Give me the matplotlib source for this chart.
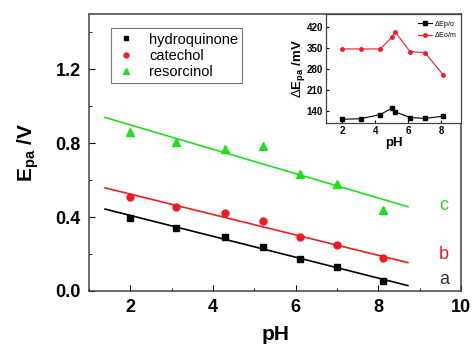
import matplotlib
matplotlib.use('Agg')
import matplotlib.pyplot as plt
import numpy as np

plt.rcParams['font.family'] = ['Liberation Sans', 'DejaVu Sans']
plt.rcParams['mathtext.fontset'] = 'custom'
plt.rcParams['mathtext.rm'] = 'Liberation Sans'
plt.rcParams['mathtext.bf'] = 'Liberation Sans:bold'

# main data: peak potentials vs pH
ph = [2.0, 3.1, 4.3, 5.2, 6.1, 7.0, 8.1]
hydroquinone = [0.395, 0.339, 0.290, 0.240, 0.173, 0.128, 0.054]
catechol = [0.508, 0.454, 0.423, 0.378, 0.294, 0.247, 0.178]
resorcinol = [0.858, 0.804, 0.769, 0.786, 0.634, 0.580, 0.438]

# fitted lines (slope, intercept) and range
fit_hq = [-0.0566, 0.522]
fit_cat = [-0.0553, 0.635]
fit_res = [-0.0660, 1.031]
fit_range = [1.39, 8.71]

# inset data
ph_inset = [2.0, 3.1, 4.3, 5.0, 5.2, 6.1, 7.0, 8.1]
dEp_o = [113, 115, 129, 150, 138, 119, 116, 123]
dEo_m = [348, 348, 348, 387, 405, 339, 336, 262]

green = '#22dd22'
red = '#ee1c24'

fig = plt.figure(figsize=(4.73, 3.48), dpi=100)
ax = fig.add_axes([0.188, 0.164, 0.787, 0.796])

xs = np.array(fit_range)
ax.plot(xs, fit_hq[0] * xs + fit_hq[1], color='black', lw=1.2)
ax.plot(xs, fit_cat[0] * xs + fit_cat[1], color=red, lw=1.2)
ax.plot(xs, fit_res[0] * xs + fit_res[1], color=green, lw=1.2)

ax.plot(ph, hydroquinone, 's', color='black', ms=4.5, label='hydroquinone')
ax.plot(ph, catechol, 'o', color=red, ms=5, label='catechol')
ax.plot(ph, resorcinol, '^', color=green, ms=5.5, label='resorcinol')

ax.text(9.58, 0.06, 'a', color='#333333', fontsize=13, ha='center', va='center')
ax.text(9.58, 0.195, 'b', color=red, fontsize=13, ha='center', va='center')
ax.text(9.58, 0.465, 'c', color=green, fontsize=13, ha='center', va='center')

ax.set_xlim(1, 10)
ax.set_ylim(0, 1.5)
ax.set_xticks([2, 4, 6, 8, 10])
ax.set_xticks([1, 3, 5, 7, 9], minor=True)
ax.set_yticks([0.0, 0.4, 0.8, 1.2])
ax.set_yticks([0.2, 0.6, 1.0, 1.4], minor=True)
ax.yaxis.set_major_formatter(matplotlib.ticker.FormatStrFormatter('%.1f'))
ax.tick_params(which='both', direction='in', labelsize=13)
ax.tick_params(which='major', length=4, pad=6)
ax.tick_params(which='minor', length=2.5)
for lab in ax.get_xticklabels() + ax.get_yticklabels():
    lab.set_fontweight('bold')
for s in ax.spines.values():
    s.set_linewidth(1.1)
    s.set_color('#444444')

ax.set_xlabel('pH', fontsize=15, fontweight='bold', labelpad=6)
ax.set_ylabel(r'$\mathbf{E_{pa}}$ /V', fontsize=15, fontweight='bold', labelpad=10)

leg = ax.legend(loc='upper left', bbox_to_anchor=(0.04, 0.975), fontsize=10.5,
                fancybox=False, edgecolor='#555555', handletextpad=0.8,
                borderpad=0.3, labelspacing=0.15, handlelength=1.5,
                markerscale=0.7)
leg.get_frame().set_linewidth(0.8)

# inset
ins = fig.add_axes([0.689, 0.646, 0.286, 0.314])
ins.plot(ph_inset, dEp_o, 's-', color='black', ms=2.5, lw=0.8, label=r'$\Delta$Ep/o')
ins.plot(ph_inset, dEo_m, 'o-', color=red, ms=2.5, lw=0.8, label=r'$\Delta$Eo/m')
ins.set_xlim(1, 9.2)
ins.set_ylim(100, 465)
ins.set_xticks([2, 4, 6, 8])
ins.set_yticks([140, 210, 280, 350, 420])
ins.tick_params(direction='in', labelsize=7, length=2, pad=2)
for lab in ins.get_xticklabels() + ins.get_yticklabels():
    lab.set_fontweight('bold')
for s in ins.spines.values():
    s.set_linewidth(0.9)
    s.set_color('#444444')
ins.set_xlabel('pH', fontsize=9.5, fontweight='bold', labelpad=1)
ins.set_ylabel(r'$\Delta\mathbf{E_{pa}}$ /mV', fontsize=9.5, fontweight='bold', labelpad=0)
ins.legend(loc='upper right', fontsize=5, frameon=False, handlelength=2,
           labelspacing=0.1, borderpad=0.2, handletextpad=0.3)

fig.savefig('out.png', dpi=100)
